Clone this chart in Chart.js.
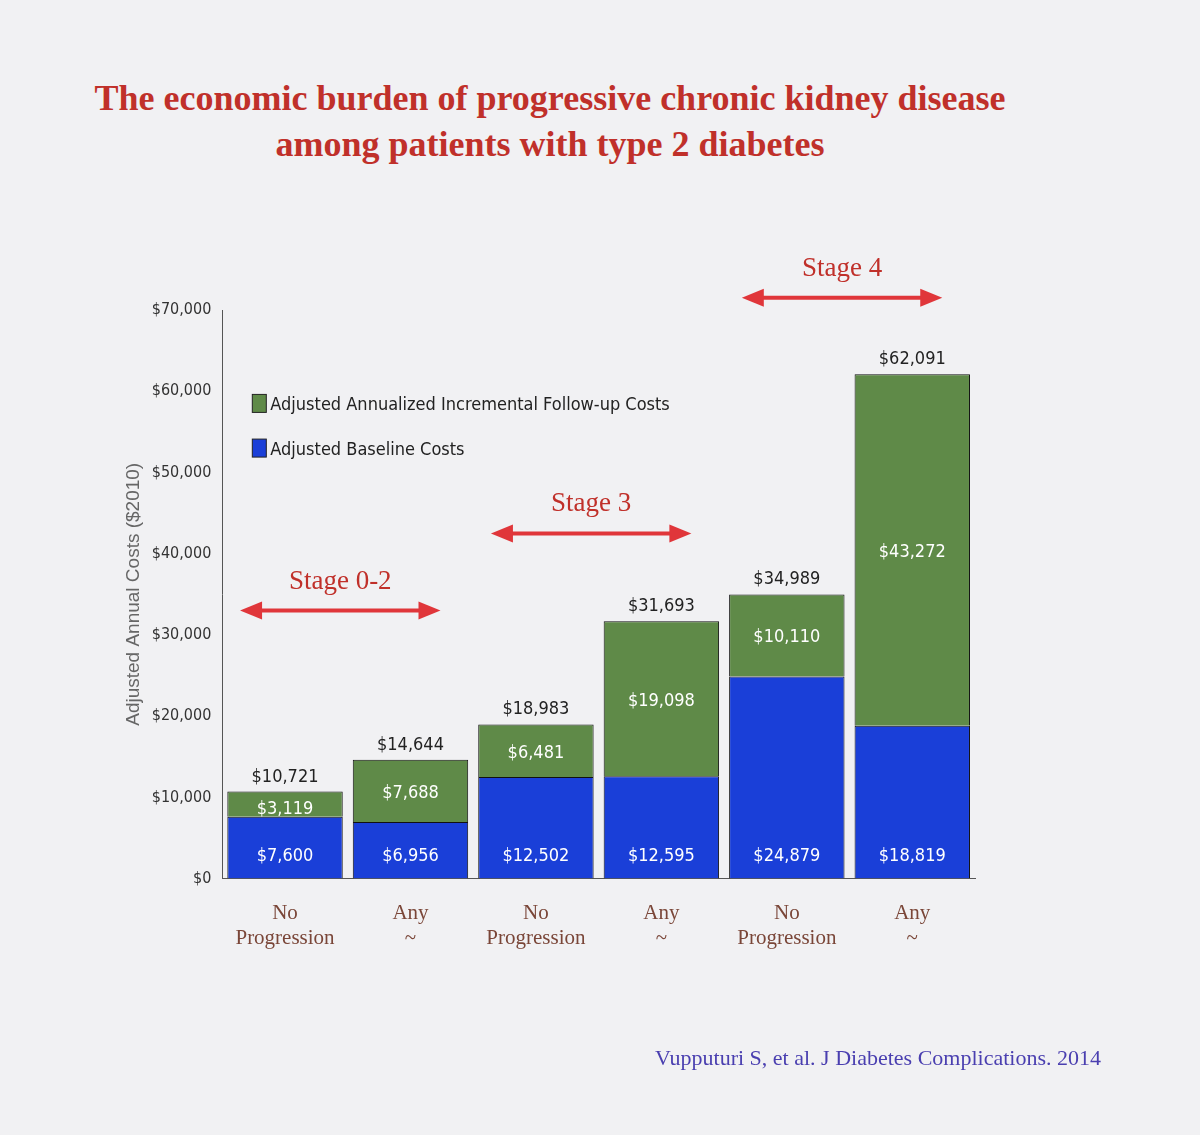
<!DOCTYPE html>
<html>
<head>
<meta charset="utf-8">
<script src="https://cdn.jsdelivr.net/npm/chart.js@4/dist/chart.umd.min.js"></script>
<style>
  body { margin:0; background:#f1f1f3; }
  #wrap { position:relative; width:1200px; height:1135px; }
  h1 { position:absolute; top:75px; left:0; width:1100px; text-align:center; margin:0;
       font:bold 36px "Liberation Serif", serif; color:#c0302a; line-height:46px; }
  #cite { position:absolute; left:655px; top:1045px; font:22px "Liberation Serif", serif; color:#4a3fb0; }
  canvas { position:absolute; left:0; top:0; }
</style>
</head>
<body>
<div id="wrap">
  <h1>The economic burden of progressive chronic kidney disease<br>among patients with type 2 diabetes</h1>
  <canvas id="c" width="1200" height="1135"></canvas>
  <div id="cite">Vupputuri S, et al. J Diabetes Complications. 2014</div>
</div>
<script>
// 데이터
const categories = [['No', 'Progression'], ['Any', '~'], ['No', 'Progression'], ['Any', '~'], ['No', 'Progression'], ['Any', '~']];
const baselineCosts = [7600, 6956, 12502, 12595, 24879, 18819];
const followupCosts = [3119, 7688, 6481, 19098, 10110, 43272];
const totalCosts = [10721, 14644, 18983, 31693, 34989, 62091];
const stages = [
  { name: 'Stage 0-2', from: 0, to: 1, y: 33000 },
  { name: 'Stage 3', from: 2, to: 3, y: 42500 },
  { name: 'Stage 4', from: 4, to: 5, y: 71500 }
];

const money = v => '$' + v.toLocaleString('en-US');
const narrow = '"DejaVu Sans Condensed", "Liberation Sans Narrow", Arial, sans-serif';

function arrow(ctx, x1, x2, y) {
  ctx.strokeStyle = '#e0363a'; ctx.fillStyle = '#e0363a'; ctx.lineWidth = 4;
  ctx.beginPath(); ctx.moveTo(x1 + 12, y); ctx.lineTo(x2 - 12, y); ctx.stroke();
  [[x1, 1], [x2, -1]].forEach(([x, d]) => {
    ctx.beginPath(); ctx.moveTo(x, y); ctx.lineTo(x + 22 * d, y - 9); ctx.lineTo(x + 22 * d, y + 9); ctx.closePath(); ctx.fill();
  });
}

const overlay = {
  id: 'overlay',
  afterDatasetsDraw(chart) {
    const ctx = chart.ctx, xs = chart.scales.x, ys = chart.scales.y;
    ctx.save();
    ctx.textAlign = 'center';
    ctx.font = '18px ' + narrow;
    const m0 = chart.getDatasetMeta(0), m1 = chart.getDatasetMeta(1);
    totalCosts.forEach((t, i) => {
      const x = xs.getPixelForValue(i);
      ctx.fillStyle = '#fff';
      ctx.fillText(money(baselineCosts[i]), x, ys.getPixelForValue(0) - 18);
      const top = m1.data[i].y, mid = m0.data[i].y;
      ctx.fillText(money(followupCosts[i]), x, i === 0 ? mid - 3 : (top + mid) / 2 + 7);
      ctx.fillStyle = '#222';
      ctx.fillText(money(t), x, top - 10);
    });
    // 스테이지 화살표
    stages.forEach(s => {
      const x1 = xs.getPixelForValue(s.from) - 45, x2 = xs.getPixelForValue(s.to) + 30;
      const y = ys.getPixelForValue(s.y);
      arrow(ctx, x1, x2, y);
      ctx.fillStyle = '#c0302a';
      ctx.font = '27px "Liberation Serif", serif';
      ctx.fillText(s.name, (x1 + x2) / 2, y - 22);
    });
    // 범례
    const lx = xs.left + 30;
    [['#5f8a48', 'Adjusted Annualized Incremental Follow-up Costs', 58500], ['#1a3fd8', 'Adjusted Baseline Costs', 53000]].forEach(([c, t, v]) => {
      const y = ys.getPixelForValue(v);
      ctx.fillStyle = c; ctx.fillRect(lx, y - 9, 14, 18);
      ctx.strokeStyle = '#222'; ctx.lineWidth = 1; ctx.strokeRect(lx, y - 9, 14, 18);
      ctx.fillStyle = '#222'; ctx.textAlign = 'left';
      ctx.font = '18px ' + narrow;
      ctx.fillText(t, lx + 18, y + 7);
    });
    ctx.restore();
  }
};

new Chart(document.getElementById('c'), {
  type: 'bar',
  data: {
    labels: categories,
    datasets: [
      { label: 'Adjusted Baseline Costs', data: baselineCosts, backgroundColor: '#1a3fd8', borderColor: '#111', borderWidth: 1 },
      { label: 'Adjusted Annualized Incremental Follow-up Costs', data: followupCosts, backgroundColor: '#5f8a48', borderColor: '#111', borderWidth: 1 }
    ]
  },
  options: {
    responsive: false,
    animation: false,
    layout: { padding: { left: 118, right: 225, top: 310, bottom: 170 } },
    plugins: { legend: { display: false }, tooltip: { enabled: false } },
    scales: {
      x: {
        stacked: true,
        grid: { display: false },
        border: { color: '#555' },
        ticks: { color: '#7a4638', font: { family: '"Liberation Serif", serif', size: 21 }, padding: 14 }
      },
      y: {
        stacked: true, min: 0, max: 70000,
        grid: { display: false },
        border: { color: '#555' },
        ticks: { stepSize: 10000, callback: v => money(v), color: '#333', font: { family: narrow, size: 16 } },
        title: { display: true, text: 'Adjusted Annual Costs ($2010)', color: '#666', font: { size: 19 } }
      }
    },
    datasets: { bar: { barPercentage: 0.92, categoryPercentage: 1 } }
  },
  plugins: [overlay]
});
</script>
</body>
</html>
